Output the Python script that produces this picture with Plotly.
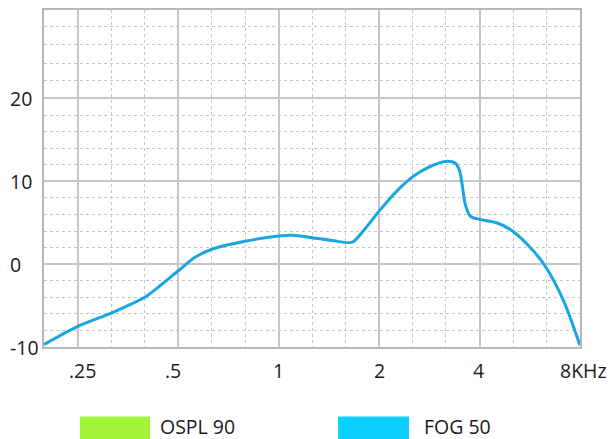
import math
import plotly.graph_objects as go

# ---- data ----
freq_khz = [0.198, 0.25, 0.315, 0.353, 0.397, 0.5, 0.56, 0.63, 0.8, 1.0, 1.1, 1.26,
            1.45, 1.66, 1.8, 2.0, 2.12, 2.31, 2.53, 2.78, 3.17, 3.38, 3.45, 3.5,
            3.56, 3.62, 3.75, 4.0, 4.5, 5.02, 5.8, 6.33, 7.14, 8.0]
fog50_db = [-9.7, -7.5, -5.9, -5.0, -4.0, -0.8, 0.8, 1.8, 2.8, 3.4, 3.5, 3.2,
            2.85, 2.65, 4.1, 6.4, 7.6, 9.2, 10.6, 11.6, 12.4, 12.2, 11.7, 11.0,
            9.2, 7.3, 5.8, 5.4, 5.0, 4.0, 1.6, -0.4, -4.4, -9.8]

x_tick_vals = [0.25, 0.5, 1, 2, 4, 8]
x_tick_text = [".25", ".5", "1", "2", "4", "8KHz"]
x_minor_vals = [0.315, 0.397, 0.63, 0.794, 1.26, 1.587, 2.52, 3.17, 5.04, 6.35]
y_tick_vals = [-10, 0, 10, 20]
legend_names = ["OSPL 90", "FOG 50"]
legend_colors = ["#A2F53A", "#0BCFFF"]

FONT = "Open Sans"
FS = 19.5
GRID = "#C6C6C6"
TXT = "#1A1A1A"

fig = go.Figure()
fig.add_trace(go.Scatter(
    x=freq_khz, y=fog50_db, mode="lines",
    line=dict(color="#18A6E0", width=3, shape="spline", smoothing=0.8),
    showlegend=False, hoverinfo="skip",
))

fig.update_xaxes(
    type="log", range=[-0.7033, 0.9031],
    tickvals=x_tick_vals, showticklabels=False,
    showgrid=True, gridcolor=GRID, gridwidth=1.5,
    minor=dict(tickvals=x_minor_vals, showgrid=True, gridcolor=GRID,
               griddash="dot", gridwidth=1, ticks=""),
    showline=True, linecolor="#B8B8B8", linewidth=2, mirror=True,
    ticks="", zeroline=False,
)
fig.update_yaxes(
    range=[-10, 30.68],
    tickvals=y_tick_vals, showticklabels=False,
    showgrid=True, gridcolor=GRID, gridwidth=1.5,
    minor=dict(tickvals=[-8, -6, -4, -2, 2, 4, 6, 8, 12, 14, 16, 18,
                         22.2, 24.2, 26.5, 28.7],
               showgrid=True, gridcolor=GRID, griddash="dot", gridwidth=1, ticks=""),
    showline=True, linecolor="#B8B8B8", linewidth=2, mirror=True,
    ticks="", zeroline=False,
)

annotations = []
# y tick labels, left aligned at the figure edge
for v in y_tick_vals:
    annotations.append(dict(
        x=0, xref="paper", xshift=-36, xanchor="left",
        y=v, yref="y", yanchor="middle", text=str(v), showarrow=False,
        font=dict(family=FONT, size=FS, color=TXT),
    ))
# x tick labels (annotation x on a log axis is given as log10)
x_label_shift = [5, -5, 0, 0, -1, 3]
for v, t, sh in zip(x_tick_vals, x_tick_text, x_label_shift):
    annotations.append(dict(
        x=math.log10(v), xref="x", xshift=sh, xanchor="center",
        y=0, yref="paper", yshift=-23, yanchor="middle",
        text=t, showarrow=False,
        font=dict(family=FONT, size=FS, color=TXT),
    ))

shapes = []
swatch_x = [(0.0672, 0.1978), (0.5485, 0.681)]
text_x = [0.2127, 0.7052]
for name, col, (x0, x1), tx in zip(legend_names, legend_colors, swatch_x, text_x):
    shapes.append(dict(type="rect", xref="paper", yref="paper",
                       x0=x0, x1=x1, y0=-0.30, y1=-0.2065,
                       fillcolor=col, line=dict(width=0)))
    annotations.append(dict(
        x=tx, xref="paper", xanchor="left", y=-0.2345, yref="paper",
        yanchor="middle", text=name, showarrow=False,
        font=dict(family=FONT, size=FS, color=TXT),
    ))

# the page adds an 8px body margin, so the figure is 8px smaller and
# margins are reduced accordingly
fig.update_layout(
    width=608, height=431,
    margin=dict(l=36, r=36, t=0, b=92),
    paper_bgcolor="white", plot_bgcolor="white",
    annotations=annotations, shapes=shapes,
    showlegend=False,
)

fig.write_html("out.html")
